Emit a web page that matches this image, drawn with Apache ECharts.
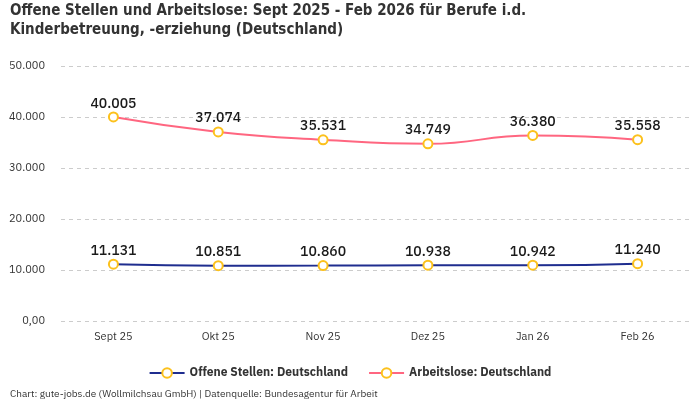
<!DOCTYPE html>
<html><head><meta charset="utf-8">
<script src="https://cdn.jsdelivr.net/npm/echarts@6/dist/echarts.min.js"></script>
<style>html,body{margin:0;padding:0;background:#fff}#c{width:700px;height:400px}</style>
</head><body><div id="c"></div>
<script>
const categories = ['Sept 25','Okt 25','Nov 25','Dez 25','Jan 26','Feb 26'];
const offeneStellen = [11131, 10851, 10860, 10938, 10942, 11240];
const arbeitslose = [40005, 37074, 35531, 34749, 36380, 35558];
const yTicks = {min:0, max:50000, interval:10000};

const fmt = v => v === 0 ? '0,00' : v.toLocaleString('de-DE');
const chart = echarts.init(document.getElementById('c'));
const font = '"IBM Plex Sans", "Noto Sans", Roboto, sans-serif';
const sym = {symbol:'circle', symbolSize:9, itemStyle:{color:'#fff', borderColor:'#FCC11C', borderWidth:2}};
const label = {show:true, position:'top', distance:1, fontSize:14, fontWeight:500, color:'#1a1a1a', fontFamily:font, formatter:p=>fmt(p.value)};
chart.setOption({
  animation:false,
  textStyle:{fontFamily:font},
  title:[{text:'Offene Stellen und Arbeitslose: Sept 2025 - Feb 2026 für Berufe i.d.\nKinderbetreuung, -erziehung (Deutschland)', left:5, top:-3,
    textStyle:{fontSize:15, fontWeight:'bold', color:'#333', lineHeight:19, fontFamily:'"DejaVu Sans Condensed", sans-serif'}},
    {text:'Chart: gute-jobs.de (Wollmilchsau GmbH) | Datenquelle: Bundesagentur für Arbeit', left:5, top:384,
    textStyle:{fontSize:10, fontWeight:'normal', color:'#333', fontFamily:font}}],
  legend:{top:362, left:'center', itemGap:20, itemWidth:35, itemHeight:12,
    textStyle:{fontSize:12, fontWeight:'bold', color:'#333', padding:[0,0,0,0]},
    data:['Offene Stellen: Deutschland','Arbeitslose: Deutschland']},
  grid:{left:61, right:10, top:66, bottom:79},
  xAxis:{type:'category', data:categories, boundaryGap:true,
    axisLine:{show:false}, axisTick:{show:false},
    axisLabel:{fontSize:11, color:'#333', margin:10}},
  yAxis:{type:'value', min:yTicks.min, max:yTicks.max, interval:yTicks.interval,
    axisLabel:{fontSize:11, color:'#333', formatter:fmt, margin:16},
    splitLine:{lineStyle:{type:[4,4], color:'#ccc'}}},
  series:[
    {name:'Offene Stellen: Deutschland', type:'line', smooth:true, data:offeneStellen,
     lineStyle:{color:'#1F2D8F', width:2}, color:'#1F2D8F', ...sym, label},
    {name:'Arbeitslose: Deutschland', type:'line', smooth:true, data:arbeitslose,
     lineStyle:{color:'#FF6680', width:2}, color:'#FF6680', ...sym, label}
  ]
});
</script></body></html>
